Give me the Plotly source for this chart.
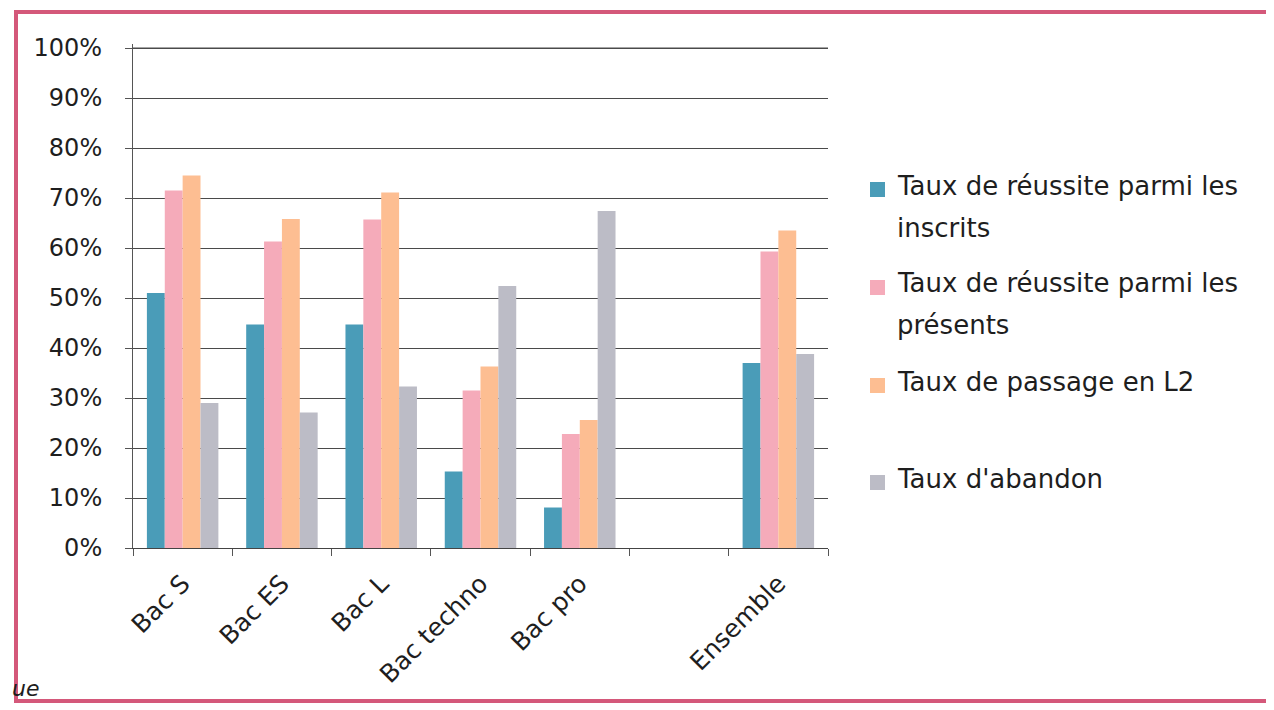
import plotly.graph_objects as go

categories = ["Bac S", "Bac ES", "Bac L", "Bac techno", "Bac pro", " ", "Ensemble"]
series_names = [
    "Taux de réussite parmi les inscrits",
    "Taux de réussite parmi les présents",
    "Taux de passage en L2",
    "Taux d'abandon",
]
legend_lines = [
    ["Taux de réussite parmi les", "inscrits"],
    ["Taux de réussite parmi les", "présents"],
    ["Taux de passage en L2"],
    ["Taux d'abandon"],
]
reussite_inscrits = [0.51, 0.447, 0.447, 0.153, 0.081, None, 0.37]
reussite_presents = [0.715, 0.613, 0.657, 0.315, 0.228, None, 0.593]
passage_l2 = [0.745, 0.658, 0.711, 0.363, 0.256, None, 0.635]
abandon = [0.29, 0.271, 0.323, 0.524, 0.674, None, 0.388]
values = [reussite_inscrits, reussite_presents, passage_l2, abandon]
colors = ["#4a9cb8", "#f5abba", "#fdbe92", "#bcbcc6"]
y_ticks = [i / 10 for i in range(11)]
y_tick_labels = [f"{i*10}%" for i in range(11)]

FONT = "DejaVu Sans"
TXT = "#1e1e1e"
GRID = "#4a4a4a"

fig = go.Figure()
for name, vals, col in zip(series_names, values, colors):
    fig.add_trace(go.Bar(x=categories, y=vals, name=name, marker_color=col,
                         marker_line_width=0, showlegend=False))

# page offset (body margin) in the screenshot
OFF = 8
FW, FH = 1266, 700
# plot area in screenshot pixels
L, R, T, B = 133, 828, 44, 548
W, H = R - L, B - T
YMAX = 1.008

def px(x):
    return (x - L) / W

def py(y):
    return (B - y) / H

# manual legend
line_centers = [[186, 228], [283, 325], [382], [479]]
swatch_y = [190, 288, 386, 483]
ann = []
shapes = []
for lines, ys, sy, col in zip(legend_lines, line_centers, swatch_y, colors):
    for t, yy in zip(lines, ys):
        ann.append(dict(text=t, x=px(895), y=py(yy), xref="paper", yref="paper",
                        xanchor="left", yanchor="middle", showarrow=False,
                        font=dict(family=FONT, size=26, color=TXT)))
    shapes.append(dict(type="rect", xref="paper", yref="paper",
                       x0=px(870), x1=px(885), y0=py(sy + 7), y1=py(sy - 8),
                       fillcolor=col, line_width=0))

# top gridline (100%)
shapes.append(dict(type="line", xref="paper", yref="y", x0=0, x1=1,
                   y0=y_ticks[-1], y1=y_ticks[-1], line=dict(color=GRID, width=1),
                   layer="below"))

# outer pink border
shapes.append(dict(type="rect", xref="paper", yref="paper",
                   x0=px(16), x1=px(1268), y0=py(12), y1=py(701),
                   line=dict(color="#d4587a", width=4), fillcolor="rgba(0,0,0,0)",
                   layer="below"))
ann.append(dict(text="<i>ue</i>", x=px(10), y=py(688), xref="paper", yref="paper",
                xanchor="left", yanchor="middle", showarrow=False,
                font=dict(family=FONT, size=22, color=TXT)))

fig.update_layout(
    width=FW, height=FH,
    margin=dict(l=L - OFF, r=FW - (R - OFF), t=T - OFF, b=FH - (B - OFF), autoexpand=False),
    paper_bgcolor="white", plot_bgcolor="white",
    barmode="group", bargap=0.28, bargroupgap=0,
    font=dict(family=FONT, size=24, color=TXT),
    annotations=ann, shapes=shapes,
)
fig.update_yaxes(range=[0, YMAX], tickvals=y_ticks, ticktext=y_tick_labels,
                 showgrid=True, gridcolor=GRID, gridwidth=1,
                 showline=True, linecolor="#555", linewidth=1,
                 ticks="outside", ticklen=7, tickcolor="#555",
                 ticklabelstandoff=18, zeroline=False,
                 tickfont=dict(family=FONT, size=24, color=TXT))
fig.update_xaxes(type="category", categoryorder="array", categoryarray=categories,
                 tickangle=-45, showline=True, linecolor="#444", linewidth=1,
                 ticks="outside", ticklen=7, tickcolor="#555", tickson="boundaries",
                 ticklabelstandoff=10, showgrid=False,
                 tickfont=dict(family=FONT, size=25, color=TXT))

fig.write_html("out.html")
